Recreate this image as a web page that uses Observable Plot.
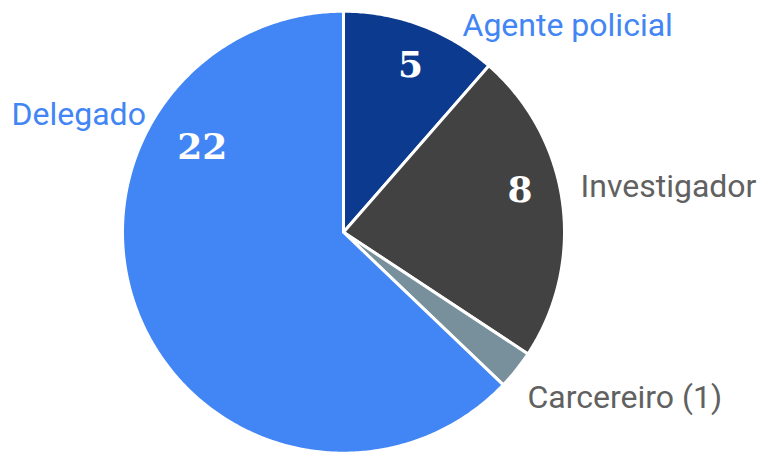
<!DOCTYPE html>
<html>
<head>
<meta charset="utf-8">
<script src="https://cdn.jsdelivr.net/npm/d3@7"></script>
<script src="https://cdn.jsdelivr.net/npm/@observablehq/plot@0.6"></script>
<style>
  html, body { margin: 0; padding: 0; background: #ffffff; }
  #chart svg { display: block; }
</style>
</head>
<body>
<div id="chart"></div>
<script>
// Slice categories (clockwise from 12 o'clock)
const categories = ["Agente policial", "Investigador", "Carcereiro", "Delegado"];
// Slice sizes as drawn in the picture
const values = [4, 8, 1, 22];
// Number shown inside each slice
const sliceLabels = ["5", "8", "", "22"];
// Outside label text
const outerLabels = ["Agente policial", "Investigador", "Carcereiro (1)", "Delegado"];
const colors = ["#0b3a8f", "#424242", "#78909c", "#4285f4"];
const labelColors = ["#4285f4", "#616161", "#616161", "#4285f4"];

const W = 757, H = 452;
const R = 221, CX = 343, CY = 231.7;

const total = d3.sum(values);
let acc = 0;
const slices = categories.map((c, i) => {
  const a0 = acc / total * 2 * Math.PI;
  acc += values[i];
  const a1 = acc / total * 2 * Math.PI;
  return {category: c, a0, a1, mid: (a0 + a1) / 2, i};
});

// Polygon points for each slice (center -> arc -> center), unit radius
const pts = [];
for (const s of slices) {
  pts.push({category: s.category, x: 0, y: 0});
  const n = Math.max(4, Math.ceil((s.a1 - s.a0) / 0.01));
  for (let k = 0; k <= n; k++) {
    const a = s.a0 + (s.a1 - s.a0) * k / n;
    pts.push({category: s.category, x: Math.sin(a), y: Math.cos(a)});
  }
  pts.push({category: s.category, x: 0, y: 0});
}

// Layout (polar, degrees clockwise from 12 o'clock, radius in pie radii) for in-slice numbers
const innerLayout = [[21.9, 0.813], [76.7, 0.821], [0, 0], [301, 0.745]];
const inner = slices.map(s => {
  const [deg, r] = innerLayout[s.i];
  const a = deg * Math.PI / 180;
  return {text: sliceLabels[s.i], x: r * Math.sin(a), y: r * Math.cos(a)};
}).filter(d => d.text);

// Layout for outside labels: pixel offset of text start/baseline from the pie centre
const outerLayout = [[119, -196.7], [237, -35.7], [184, 175.3], [-332, -107.7]];
const LABEL_SIZE = 32;
const outer = slices.map(s => {
  const [ox, oy] = outerLayout[s.i];
  return {
    text: outerLabels[s.i],
    color: labelColors[s.i],
    x: ox / R,
    y: -(oy - 0.32 * LABEL_SIZE) / R
  };
});

const chart = Plot.plot({
  width: W,
  height: H,
  margin: 0,
  style: {background: "#ffffff"},
  x: {domain: [-CX / R, (W - CX) / R], range: [0, W], axis: null},
  y: {domain: [-(H - CY) / R, CY / R], range: [H, 0], axis: null},
  color: {domain: categories, range: colors},
  marks: [
    Plot.line(pts, {x: "x", y: "y", z: "category", fill: "category", stroke: "white", strokeWidth: 3, strokeLinejoin: "round", curve: "linear"}),
    Plot.text(inner, {x: "x", y: "y", text: "text", fill: "white", fontFamily: "DejaVu Serif", fontWeight: "bold", fontSize: 36}),
    Plot.text(outer, {x: "x", y: "y", text: "text", fill: d => d.color, textAnchor: "start", lineAnchor: "middle", fontFamily: "Roboto", fontSize: LABEL_SIZE})
  ]
});
document.getElementById("chart").appendChild(chart);
</script>
</body>
</html>
